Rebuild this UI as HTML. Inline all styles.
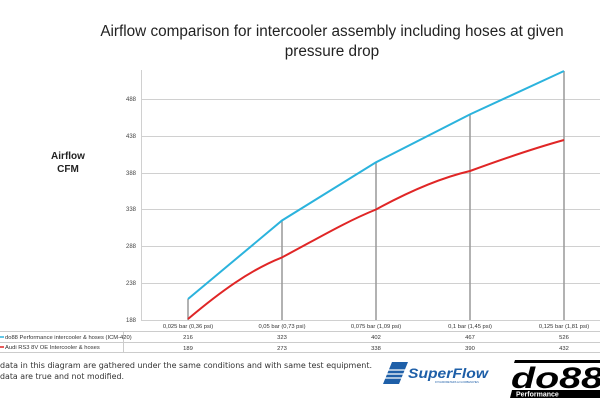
<!DOCTYPE html>
<html><head><meta charset="utf-8"><style>
html,body{margin:0;padding:0;background:#fff;}
body{width:600px;height:400px;overflow:hidden;font-family:"Liberation Sans",sans-serif;}
</style></head><body>
<svg width="600" height="400" viewBox="0 0 600 400" xmlns="http://www.w3.org/2000/svg" font-family="Liberation Sans, sans-serif">
<text x="332" y="36" text-anchor="middle" font-size="15.3" fill="#222">Airflow comparison for intercooler assembly including hoses at given</text>
<text x="332" y="56" text-anchor="middle" font-size="15.3" fill="#222">pressure drop</text>
<text x="68" y="159" text-anchor="middle" font-size="10" font-weight="bold" fill="#222">Airflow</text>
<text x="68" y="172" text-anchor="middle" font-size="10" font-weight="bold" fill="#222">CFM</text>
<g stroke="#d0d0d0" stroke-width="1">
<line x1="141" y1="99.5" x2="600" y2="99.5"/>
<line x1="141" y1="136.5" x2="600" y2="136.5"/>
<line x1="141" y1="173.5" x2="600" y2="173.5"/>
<line x1="141" y1="209.5" x2="600" y2="209.5"/>
<line x1="141" y1="246.5" x2="600" y2="246.5"/>
<line x1="141" y1="283.5" x2="600" y2="283.5"/>
<line x1="141" y1="320.5" x2="600" y2="320.5"/>
<line x1="141.5" y1="70" x2="141.5" y2="320"/>
</g>
<g font-size="6" fill="#444" text-anchor="end">
<text x="136" y="101">488</text><text x="136" y="138">438</text><text x="136" y="175">388</text>
<text x="136" y="211">338</text><text x="136" y="248">288</text><text x="136" y="285">238</text><text x="136" y="322">188</text>
</g>
<g stroke="#999" stroke-width="1.5">
<line x1="188" y1="299" x2="188" y2="320"/>
<line x1="282" y1="220" x2="282" y2="320"/>
<line x1="376" y1="162" x2="376" y2="320"/>
<line x1="470" y1="114" x2="470" y2="320"/>
<line x1="564" y1="71" x2="564" y2="320"/>
</g>
<polyline points="188,299 282,220.5 376,162.3 470,114.4 564,71" fill="none" stroke="#2bb3dd" stroke-width="2"/>
<path d="M188,319 C220,292 250,270 282,257.4 C315,240 345,222 376,209.5 C408,192 440,178 470,171 C500,160 535,148 564,140" fill="none" stroke="#e02626" stroke-width="2"/>
<g stroke="#ccc" stroke-width="1">
<line x1="0" y1="331.5" x2="600" y2="331.5"/>
<line x1="0" y1="342.5" x2="600" y2="342.5"/>
<line x1="0" y1="352.5" x2="600" y2="352.5"/>
<line x1="123.5" y1="331" x2="123.5" y2="352"/>
</g>
<g font-size="5.8" fill="#333" text-anchor="middle">
<text x="188" y="328">0,025 bar (0,36 psi)</text><text x="282" y="328">0,05 bar (0,73 psi)</text>
<text x="376" y="328">0,075 bar (1,09 psi)</text><text x="470" y="328">0,1 bar (1,45 psi)</text>
<text x="564" y="328">0,125 bar (1,81 psi)</text>
<text x="188" y="339">216</text><text x="282" y="339">323</text><text x="376" y="339">402</text><text x="470" y="339">467</text><text x="564" y="339">526</text>
<text x="188" y="350">189</text><text x="282" y="350">273</text><text x="376" y="350">338</text><text x="470" y="350">390</text><text x="564" y="350">432</text>
</g>
<line x1="0" y1="337" x2="4" y2="337" stroke="#2bb3dd" stroke-width="1.5"/>
<line x1="0" y1="347" x2="4" y2="347" stroke="#e02626" stroke-width="1.5"/>
<g font-size="5.8" fill="#333">
<text x="5" y="339">do88 Performance intercooler &amp; hoses (ICM-420)</text>
<text x="5" y="349">Audi RS3 8V OE Intercooler &amp; hoses</text>
</g>
<g font-size="7.8" fill="#333" font-family="DejaVu Sans, sans-serif">
<text x="0" y="368" textLength="372" lengthAdjust="spacingAndGlyphs">data in this diagram are gathered under the same conditions and with same test equipment.</text>
<text x="0" y="379" textLength="124" lengthAdjust="spacingAndGlyphs">data are true and not modified.</text>
</g>
<g transform="translate(383,362)">
<path d="M9,0 H25 L16,22 H0 Z" fill="#1e5fa8"/>
<path d="M3,8 H22 M3,12 H21 M2,16 H19" stroke="#fff" stroke-width="1.2"/>
<text x="25" y="16" font-size="14" font-weight="bold" font-style="italic" fill="#1e5fa8" textLength="80" lengthAdjust="spacingAndGlyphs">SuperFlow</text>
<text x="52" y="21" font-size="2.5" fill="#1e5fa8">DYNAMOMETERS &amp; FLOWBENCHES</text>
</g>
<g transform="translate(510,360)">
<path d="M5,0 H92 L90,3 H4 Z" fill="#000"/>
<text x="1" y="28" font-size="30" font-weight="bold" font-style="italic" fill="#000" textLength="92" lengthAdjust="spacingAndGlyphs">do88</text>
<path d="M2,30 H92 V38 H0 Z" fill="#000"/>
<text x="6" y="36.5" font-size="7" font-weight="bold" fill="#fff">Performance</text>
</g>
</svg>
</body></html>
